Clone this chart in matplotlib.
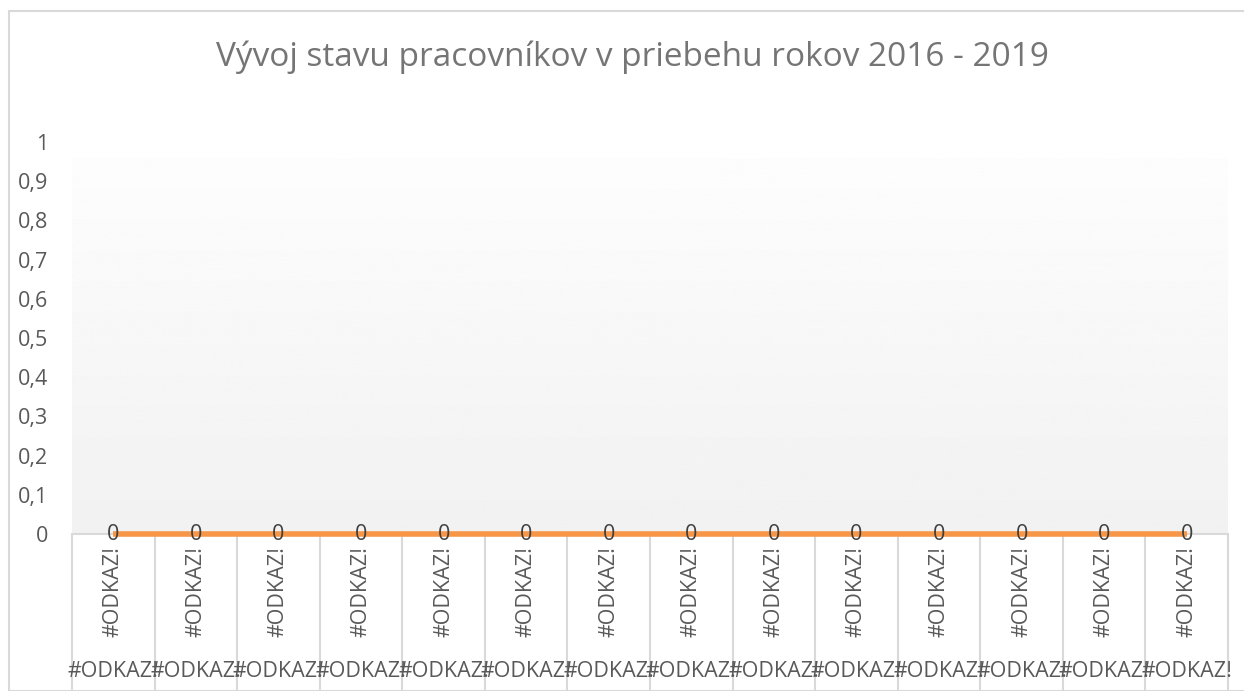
import matplotlib
matplotlib.use("Agg")
import matplotlib.pyplot as plt
import numpy as np
from matplotlib.patches import Rectangle

plt.rcParams['font.family'] = ['Open Sans', 'DejaVu Sans']

# data (the source sheet has broken references, so every value is 0)
inner_labels = ["#ODKAZ!"] * 14
outer_labels = ["#ODKAZ!"] * 14
values = [0] * 14
yticks = [0, 0.1, 0.2, 0.3, 0.4, 0.5, 0.6, 0.7, 0.8, 0.9, 1]
title = "Vývoj stavu pracovníkov v priebehu rokov 2016 - 2019"

W, H = 1244, 691
fig = plt.figure(figsize=(W / 100, H / 100), dpi=100)
fig.patch.set_facecolor("white")

# chart border (runs off the right and bottom edge like the screenshot)
fig.patches.append(Rectangle((9 / W, 0), 1.2, 1 - 11 / H, transform=fig.transFigure,
                             fill=False, edgecolor="#d9d9d9", linewidth=1.5))

ax = fig.add_axes([72 / W, (H - 534) / H, (1228 - 72) / W, 392 / H])
n = len(values)
xx = np.arange(n) + 0.5

# gradient fill of the plot area
grad = np.linspace(0.992, 0.945, 256).reshape(-1, 1)
ax.imshow(grad, extent=[0, n, 0, 0.957], aspect="auto", cmap="gray",
          vmin=0, vmax=1, zorder=0, origin="upper")

ax.set_xlim(0, n)
ax.set_ylim(0, 1)
ax.set_yticks(yticks)
ax.set_yticklabels([("%g" % t).replace(".", ",") for t in yticks])
ax.tick_params(axis="y", length=0, pad=17, labelsize=15.5, labelcolor="#595959")
ax.set_xticks([])
for s in ["top", "right", "left"]:
    ax.spines[s].set_visible(False)
ax.spines["bottom"].set_color("#d9d9d9")
ax.spines["bottom"].set_linewidth(1.5)

# category separators below the axis
ax.vlines(np.arange(n + 1), -0.42, 0, colors="#d9d9d9", linewidth=1.5, clip_on=False)

ax.plot(xx, values, color="#f79646", linewidth=4, solid_capstyle="butt", zorder=3, clip_on=False)

for x, v in zip(xx, values):
    ax.text(x, v, "%g" % v, ha="center", va="center", fontsize=15.5, color="#404040", zorder=4)

for x, lab in zip(xx, inner_labels):
    ax.annotate(lab, (x, 0), xytext=(0, -8.5), textcoords="offset points", rotation=90,
                ha="center", va="top", fontsize=15.5, color="#595959", annotation_clip=False)

for x, lab in zip(xx, outer_labels):
    ax.annotate(lab, (x, 0), xytext=(0, -99), textcoords="offset points",
                ha="center", va="center", fontsize=15.5, color="#595959", annotation_clip=False)

fig.text(632 / W, 1 - 57 / H, title, ha="center", va="center", fontsize=24, color="#757575")

plt.savefig("out.png", dpi=100)
